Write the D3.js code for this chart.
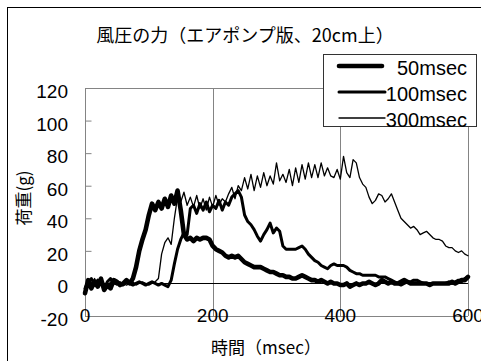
<!DOCTYPE html>
<html>
<head>
<meta charset="utf-8">
<script src="https://cdn.jsdelivr.net/npm/d3@7"></script>
<style>
  html, body { margin: 0; padding: 0; background: #fff; }
  svg { display: block; }
  text { fill: #000; }
</style>
</head>
<body>
<svg id="chart" width="481" height="361"></svg>
<script>
// Sample times (msec), shared by all three series
const times = d3.range(0, 601, 5);

// Load (g) for each air-pump pulse length
const load50 = [
  -6, 2, -3, 1, -2, 3, -4, -1, -3, 2, 1, -1, 0, 2, 0, 3,
  10, 20, 27, 33, 42, 49, 45, 50, 46, 52, 47, 54, 49, 57,
  45, 30, 27, 28, 26, 28, 27, 28, 28, 27,
  23, 21, 20, 19, 17, 16, 17, 16, 17, 15,
  13, 12, 11, 10, 10, 10, 9, 8, 7, 7,
  6, 5, 5, 4, 4, 3, 3, 4, 5, 4,
  3, 2, 2, 1, 2, 1, 0, 1, 0, 0,
  -1, -1, 0, -2, -1, 0, -1, 0, 0, 1,
  0, -1, 0, 2, 1, 0, 1, 0, 0, 1,
  2, 1, 0, 0, 0, 0, 0, 0, -1, 0,
  0, 0, 0, 0, 0, 1, 0, 1, 2, 2, 4
];
const load100 = [
  -3, 1, 3, -1, 2, 0, -3, 1, 3, 0, 1, 0, -1, 1, 0, -1,
  0, 1, 0, -1, 0, 1, 0, -1, 0, -1, -2, 2, 12, 21,
  27, 31, 30, 46, 48, 43, 49, 45, 50, 44,
  48, 46, 51, 45, 50, 48, 53, 55, 57, 53,
  42, 38, 36, 33, 29, 26, 30, 33, 37, 31,
  34, 32, 23, 21, 21, 21, 21, 22, 23, 21,
  18, 16, 14, 13, 11, 10, 9, 11, 12, 11,
  11, 11, 10, 8, 7, 6, 6, 5, 5, 5,
  5, 5, 4, 4, 4, 3, 2, 1, 0, -1,
  0, 1, 1, 2, 2, 1, 0, 0, 0, 0,
  0, 0, 0, 0, 1, 0, 1, 2, 1, 3, 4
];
const load300 = [
  -2, 2, 0, 3, -1, 1, 0, -2, 1, 0, -1, 1, 0, -1, 0, 1,
  -1, 0, 1, 0, -1, 0, 1, 3, 18, 25, 28, 24, 40, 53,
  50, 56, 48, 53, 47, 54, 46, 52, 45, 53,
  47, 54, 48, 52, 50, 55, 59, 52, 60, 57,
  65, 58, 67, 57, 66, 59, 68, 60, 66, 61,
  74, 63, 67, 62, 70, 60, 71, 62, 73, 64,
  74, 65, 73, 65, 74, 66, 71, 66, 65, 70,
  64, 78, 68, 65, 76, 74, 65, 61, 59, 53,
  49, 51, 55, 54, 50, 52, 55, 50, 45, 40,
  38, 36, 34, 35, 33, 30, 31, 32, 30, 28,
  27, 27, 26, 23, 22, 22, 20, 19, 20, 18, 17
];

const seriesNames = ["50msec", "100msec", "300msec"];
const seriesValues = [load50, load100, load300];
const seriesWidths = [4.6, 3.0, 1.3];

const xTicks = [0, 200, 400, 600];
const yTicks = [-20, 0, 20, 40, 60, 80, 100, 120];
const yTickLabels = ["-20", "0", "20", "40", "60", "80", "100", "120"];

const titleText = "風圧の力（エアポンプ版、20cm上）";
const xTitle = "時間（msec）";
const yTitle = "荷重(g)";

const latin = "'Liberation Sans', Arial, 'Noto Sans CJK JP', sans-serif";
const cjk = "'Noto Sans CJK JP', 'Liberation Sans', sans-serif";

const svg = d3.select("#chart");

// Outer chart frame
svg.append("rect")
  .attr("x", 7.5).attr("y", 7.5)
  .attr("width", 520).attr("height", 420)
  .attr("fill", "#fff").attr("stroke", "#000").attr("stroke-width", 1);

const x = d3.scaleLinear().domain([0, 600]).range([85, 468]);
const y = d3.scaleLinear().domain([-20, 120]).range([316, 88]);

const grey = "#848484";

// Vertical gridlines and plot frame
const plot = svg.append("g");
plot.selectAll("line.vgrid")
  .data(xTicks.slice(1))
  .join("line")
  .attr("class", "vgrid")
  .attr("x1", d => Math.round(x(d)) + 0.5).attr("x2", d => Math.round(x(d)) + 0.5)
  .attr("y1", y(120)).attr("y2", y(-20))
  .attr("stroke", grey).attr("stroke-width", 1);
plot.append("line")
  .attr("x1", x(0)).attr("x2", x(600))
  .attr("y1", Math.round(y(120)) + 0.5).attr("y2", Math.round(y(120)) + 0.5)
  .attr("stroke", grey);

// Left axis with inward ticks
const yAxis = d3.axisRight(y).tickValues(yTicks.slice(1, -1)).tickSize(6).tickFormat("");
const yAxisG = svg.append("g")
  .attr("transform", `translate(${Math.round(x(0)) + 0.5},0)`)
  .call(yAxis);
yAxisG.selectAll("line, path").attr("stroke", grey);
yAxisG.select("path.domain").attr("d", `M0,${y(120)}V${y(-20)}`);

// Bottom axis line
svg.append("line")
  .attr("x1", x(0)).attr("x2", x(600))
  .attr("y1", Math.round(y(-20)) + 0.5).attr("y2", Math.round(y(-20)) + 0.5)
  .attr("stroke", grey);

// Zero line
svg.append("line")
  .attr("x1", x(0)).attr("x2", x(600))
  .attr("y1", Math.round(y(0)) + 0.5).attr("y2", Math.round(y(0)) + 0.5)
  .attr("stroke", "#000").attr("stroke-width", 1);

// Data lines
const line = d3.line()
  .x((d, i) => x(times[i]))
  .y(d => y(d));

svg.append("g")
  .selectAll("path.series")
  .data(seriesValues)
  .join("path")
  .attr("class", "series")
  .attr("d", d => line(d))
  .attr("fill", "none")
  .attr("stroke", "#000")
  .attr("stroke-width", (d, i) => seriesWidths[i])
  .attr("stroke-linejoin", "round")
  .attr("stroke-linecap", "round");

// Tick labels
svg.append("g")
  .selectAll("text")
  .data(yTicks)
  .join("text")
  .attr("x", 68)
  .attr("y", d => y(d) + 3.5)
  .attr("text-anchor", "end")
  .attr("dominant-baseline", "central")
  .attr("font-family", latin)
  .attr("font-size", 19)
  .text((d, i) => yTickLabels[i]);

svg.append("g")
  .selectAll("text")
  .data(xTicks)
  .join("text")
  .attr("x", d => x(d))
  .attr("y", 315)
  .attr("text-anchor", "middle")
  .attr("dominant-baseline", "central")
  .attr("font-family", latin)
  .attr("font-size", 19)
  .text(d => d);

// Titles
svg.append("text")
  .attr("x", 245).attr("y", 34)
  .attr("text-anchor", "middle")
  .attr("dominant-baseline", "central")
  .attr("font-family", cjk)
  .attr("font-size", 18)
  .text(titleText);

svg.append("text")
  .attr("x", 266).attr("y", 346)
  .attr("text-anchor", "middle")
  .attr("dominant-baseline", "central")
  .attr("font-family", cjk)
  .attr("font-size", 17)
  .text(xTitle);

svg.append("text")
  .attr("transform", "translate(22,198) rotate(-90)")
  .attr("text-anchor", "middle")
  .attr("dominant-baseline", "central")
  .attr("font-family", cjk)
  .attr("font-size", 17)
  .text(yTitle);

// Legend
const legend = svg.append("g");
legend.append("rect")
  .attr("x", 323.5).attr("y", 54.5)
  .attr("width", 153).attr("height", 72)
  .attr("fill", "#fff").attr("stroke", "#333").attr("stroke-width", 1);

const legendRows = [66, 92, 118];
const legendLineEnd = [382, 385, 385];
legend.selectAll("line")
  .data(seriesNames)
  .join("line")
  .attr("x1", 339).attr("x2", (d, i) => legendLineEnd[i])
  .attr("y1", (d, i) => legendRows[i]).attr("y2", (d, i) => legendRows[i])
  .attr("stroke", "#000")
  .attr("stroke-width", (d, i) => seriesWidths[i])
  .attr("stroke-linecap", "round");
legend.selectAll("text")
  .data(seriesNames)
  .join("text")
  .attr("x", 467)
  .attr("y", (d, i) => legendRows[i] + 1.5)
  .attr("text-anchor", "end")
  .attr("dominant-baseline", "central")
  .attr("font-family", latin)
  .attr("font-size", 20)
  .text(d => d);
</script>
</body>
</html>
